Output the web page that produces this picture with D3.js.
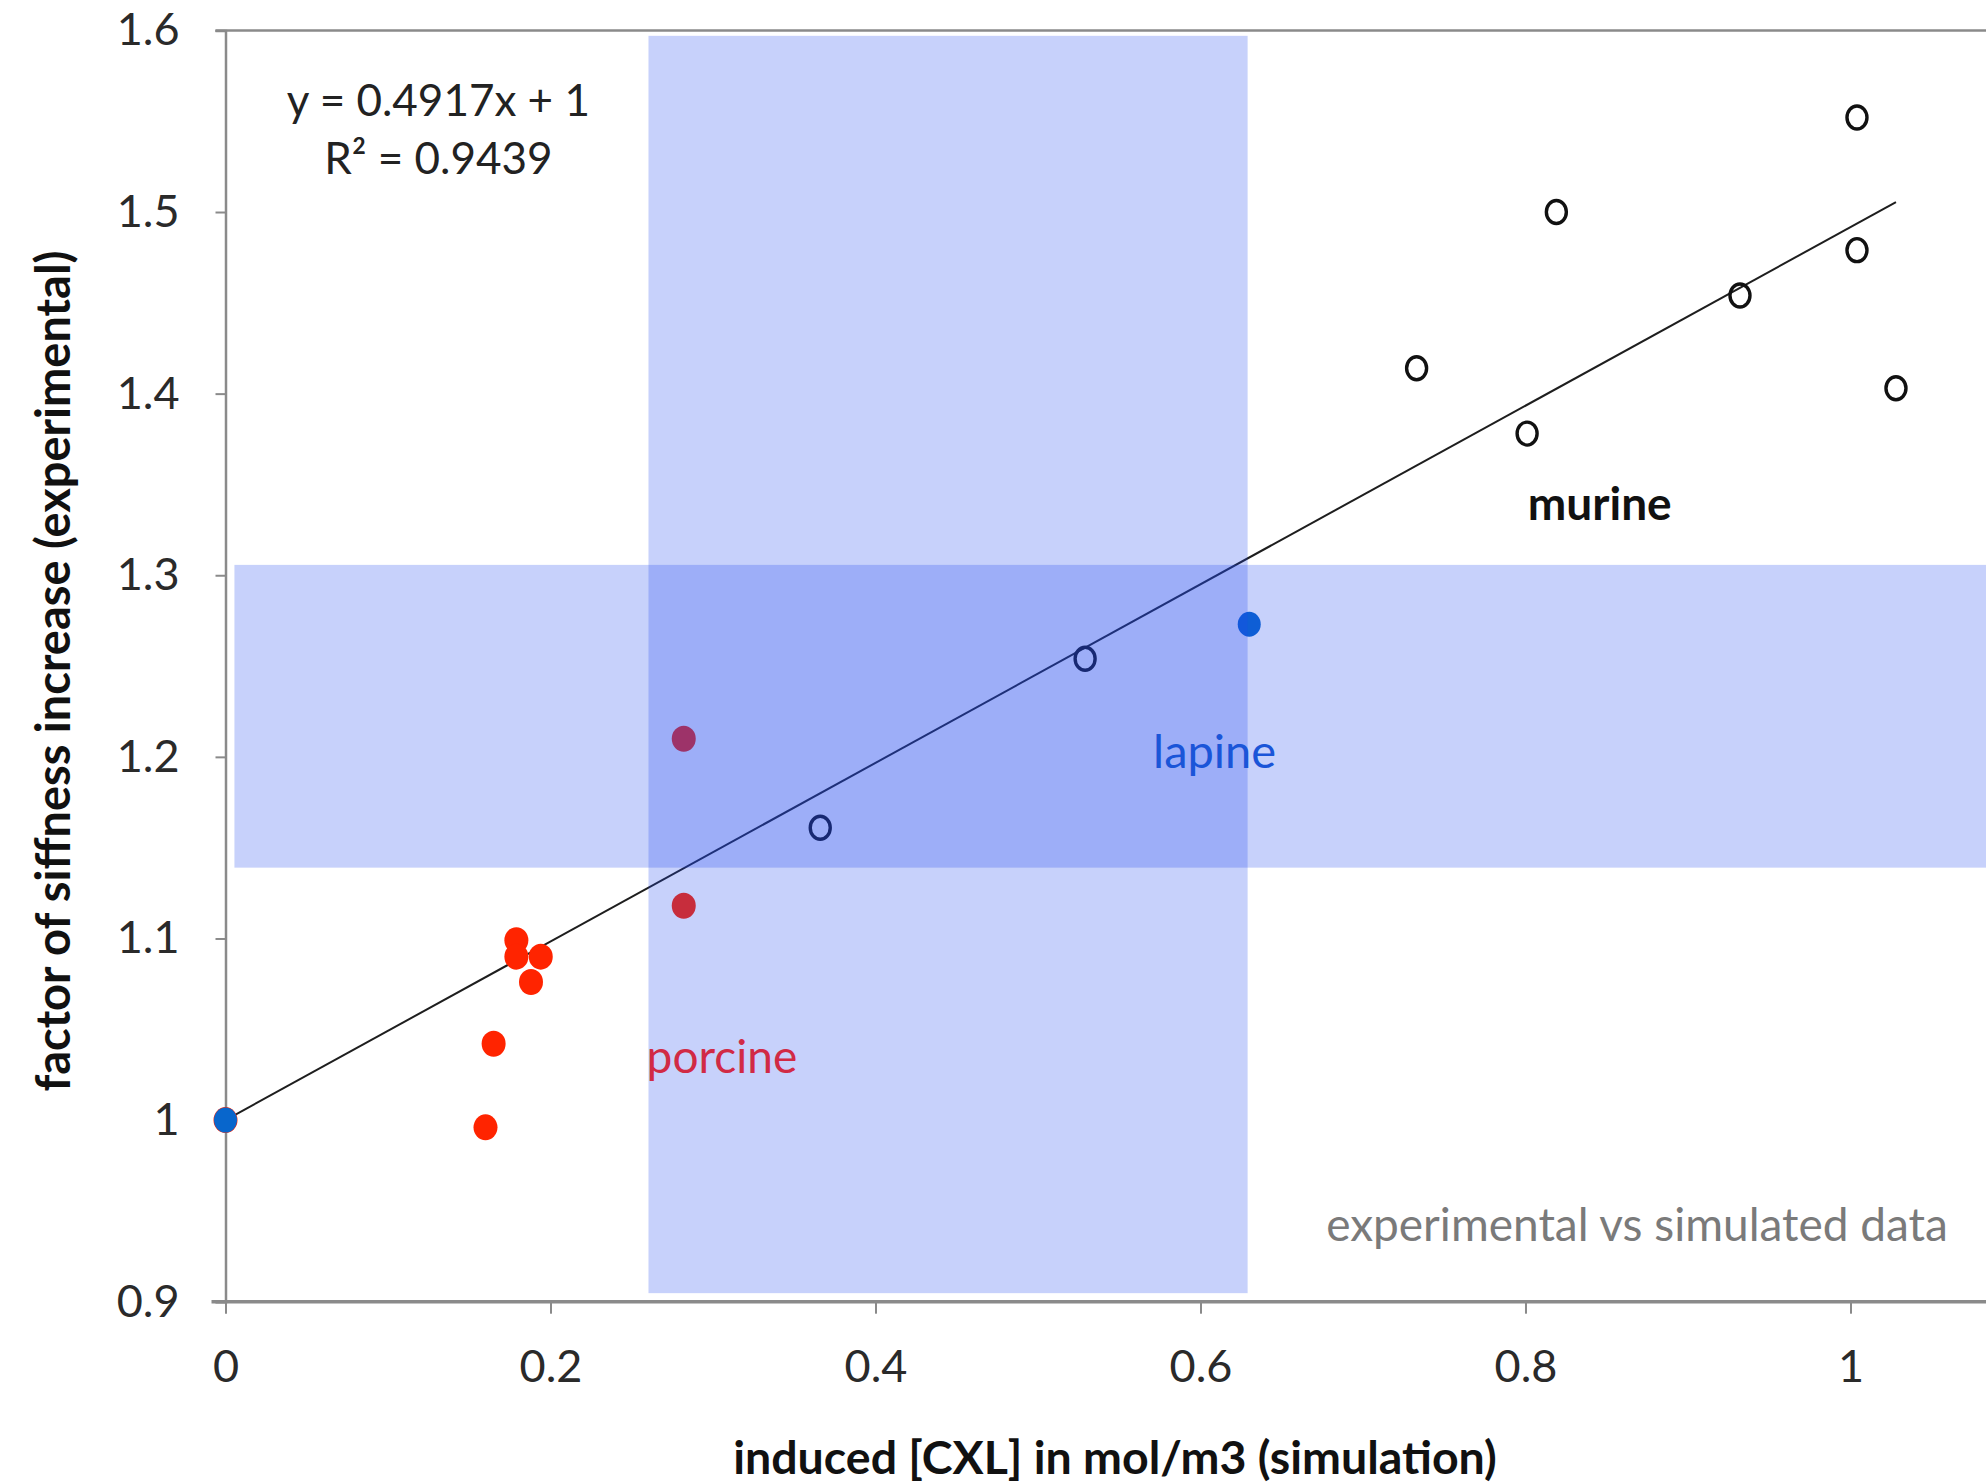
<!DOCTYPE html>
<html>
<head>
<meta charset="utf-8">
<script src="https://cdn.jsdelivr.net/npm/d3@7"></script>
<style>
  html, body { margin: 0; padding: 0; background: #ffffff; }
  svg { display: block; }
  text { font-family: Lato, "Open Sans", "DejaVu Sans", sans-serif; }
</style>
</head>
<body>
<svg id="chart" width="1986" height="1484"></svg>
<script>
// ---- data ----
const murineX  = [1.004, 0.819, 1.004, 0.932, 0.733, 0.801, 1.028, 0.529, 0.366];
const murineY  = [1.552, 1.500, 1.479, 1.454, 1.414, 1.378, 1.403, 1.254, 1.161];
const porcineX = [0.000, 0.282, 0.282, 0.179, 0.179, 0.194, 0.188, 0.165, 0.160];
const porcineY = [1.000, 1.210, 1.118, 1.099, 1.090, 1.090, 1.076, 1.042, 0.996];
const lapineX  = [0.000, 0.630];
const lapineY  = [1.000, 1.273];
const xTicks = [0, 0.2, 0.4, 0.6, 0.8, 1];
const yTicks = [0.9, 1, 1.1, 1.2, 1.3, 1.4, 1.5, 1.6];
const trendSlope = 0.4917, trendIntercept = 1;
const eqLabel = "y = 0.4917x + 1";
const r2Label = "R² = 0.9439";
// shaded ranges [x0, x1, y0, y1]
const vBand = [0.2603, 0.629, 0.9047, 1.597];
const hBand = [0.0055, 1.0834, 1.139, 1.3057];

const svg = d3.select("#chart");
const W = 1986, H = 1484;
const x = d3.scaleLinear().domain([0, 1.0834]).range([225.5, W]);
const y = d3.scaleLinear().domain([0.9, 1.6]).range([1301.7, 30.4]);

const axisColor = "#8a8a8a";

// top border line at 1.6
svg.append("line").attr("x1", x(0) - 10).attr("x2", W)
  .attr("y1", y(1.6)).attr("y2", y(1.6))
  .attr("stroke", axisColor).attr("stroke-width", 2.5);

// y axis
const yAxis = d3.axisLeft(y).tickValues(yTicks).tickSize(10).tickPadding(36)
  .tickFormat(d => d === 1 ? "1" : d3.format(".1f")(d));
const gy = svg.append("g").attr("transform", `translate(${x(0)},0)`).call(yAxis);
gy.select(".domain").attr("stroke", axisColor).attr("stroke-width", 2.5);
gy.selectAll(".tick line").attr("stroke", axisColor).attr("stroke-width", 2);
gy.selectAll(".tick text").attr("font-size", 45).attr("fill", "#2a2a2a")
  .attr("font-family", "Lato, sans-serif");

// x axis
const xAxis = d3.axisBottom(x).tickValues(xTicks).tickSize(12).tickPadding(36)
  .tickFormat(d => (d === 0 || d === 1) ? String(d) : d3.format(".1f")(d));
const gx = svg.append("g").attr("transform", `translate(0,${y(0.9)})`).call(xAxis);
gx.select(".domain").remove();
gx.append("line").attr("x1", x(0) - 14).attr("x2", W).attr("y1", 0).attr("y2", 0)
  .attr("stroke", axisColor).attr("stroke-width", 3.5);
gx.selectAll(".tick line").attr("stroke", axisColor).attr("stroke-width", 2);
gx.selectAll(".tick text").attr("font-size", 45).attr("fill", "#2a2a2a")
  .attr("font-family", "Lato, sans-serif");

// trend line
const tx0 = d3.min([...murineX, ...porcineX, ...lapineX]);
const tx1 = d3.max([...murineX, ...porcineX, ...lapineX]);
svg.append("line")
  .attr("x1", x(tx0)).attr("y1", y(trendSlope * tx0 + trendIntercept))
  .attr("x2", x(tx1)).attr("y2", y(trendSlope * tx1 + trendIntercept))
  .attr("stroke", "#1e1e1e").attr("stroke-width", 2);

// points
const murine = murineX.map((v, i) => ({x: v, y: murineY[i]}));
const porcine = porcineX.map((v, i) => ({x: v, y: porcineY[i]}));
const lapine = lapineX.map((v, i) => ({x: v, y: lapineY[i]}));

svg.append("g").selectAll("ellipse").data(murine).join("ellipse")
  .attr("cx", d => x(d.x)).attr("cy", d => y(d.y))
  .attr("rx", 10).attr("ry", 11.5)
  .attr("fill", "none").attr("stroke", "#111").attr("stroke-width", 3.4);

svg.append("g").selectAll("ellipse").data(porcine).join("ellipse")
  .attr("cx", d => x(d.x)).attr("cy", d => y(d.y))
  .attr("rx", 12).attr("ry", 13)
  .attr("fill", "#ff2400");

svg.append("g").selectAll("ellipse").data(lapine).join("ellipse")
  .attr("cx", d => x(d.x)).attr("cy", d => y(d.y))
  .attr("rx", 11.5).attr("ry", 12.5)
  .attr("fill", "#0866cc");

// translucent bands drawn over the points
const bandFill = "rgb(31,71,239)", bandOp = 0.25;
[vBand, hBand].forEach(b => {
  svg.append("rect")
    .attr("x", x(b[0])).attr("width", x(b[1]) - x(b[0]))
    .attr("y", y(b[3])).attr("height", y(b[2]) - y(b[3]))
    .attr("fill", bandFill).attr("fill-opacity", bandOp);
});

// annotations
svg.append("text").attr("x", x(0.131)).attr("y", y(1.5623))
  .attr("text-anchor", "middle").attr("dominant-baseline", "central")
  .attr("font-size", 44).attr("fill", "#222").text(eqLabel);
svg.append("text").attr("x", x(0.131)).attr("y", y(1.5303))
  .attr("text-anchor", "middle").attr("dominant-baseline", "central")
  .attr("font-size", 44).attr("fill", "#222").text(r2Label);

svg.append("text").attr("x", x(0.8457)).attr("y", y(1.340))
  .attr("text-anchor", "middle").attr("dominant-baseline", "central")
  .attr("font-size", 46).attr("font-weight", "bold").attr("fill", "#111").text("murine");
svg.append("text").attr("x", x(0.6087)).attr("y", y(1.2039))
  .attr("text-anchor", "middle").attr("dominant-baseline", "central")
  .attr("font-size", 47).attr("fill", "#1a55d8").text("lapine");
svg.append("text").attr("x", x(0.3055)).attr("y", y(1.0358))
  .attr("text-anchor", "middle").attr("dominant-baseline", "central")
  .attr("font-size", 46).attr("fill", "#d12a45").text("porcine");
svg.append("text").attr("x", x(1.060)).attr("y", y(0.9431))
  .attr("text-anchor", "end").attr("dominant-baseline", "central")
  .attr("font-size", 46).attr("fill", "#7a7a7a").text("experimental vs simulated data");

// axis titles
svg.append("text").attr("x", 1115).attr("y", 1456)
  .attr("text-anchor", "middle").attr("dominant-baseline", "central")
  .attr("font-size", 46.5).attr("font-weight", "bold").attr("fill", "#111")
  .text("induced [CXL] in mol/m3 (simulation)");
svg.append("text")
  .attr("transform", "translate(52,671) rotate(-90)")
  .attr("text-anchor", "middle").attr("dominant-baseline", "central")
  .attr("font-size", 47).attr("font-weight", "bold").attr("fill", "#111")
  .text("factor of siffness increase (experimental)");
</script>
</body>
</html>
